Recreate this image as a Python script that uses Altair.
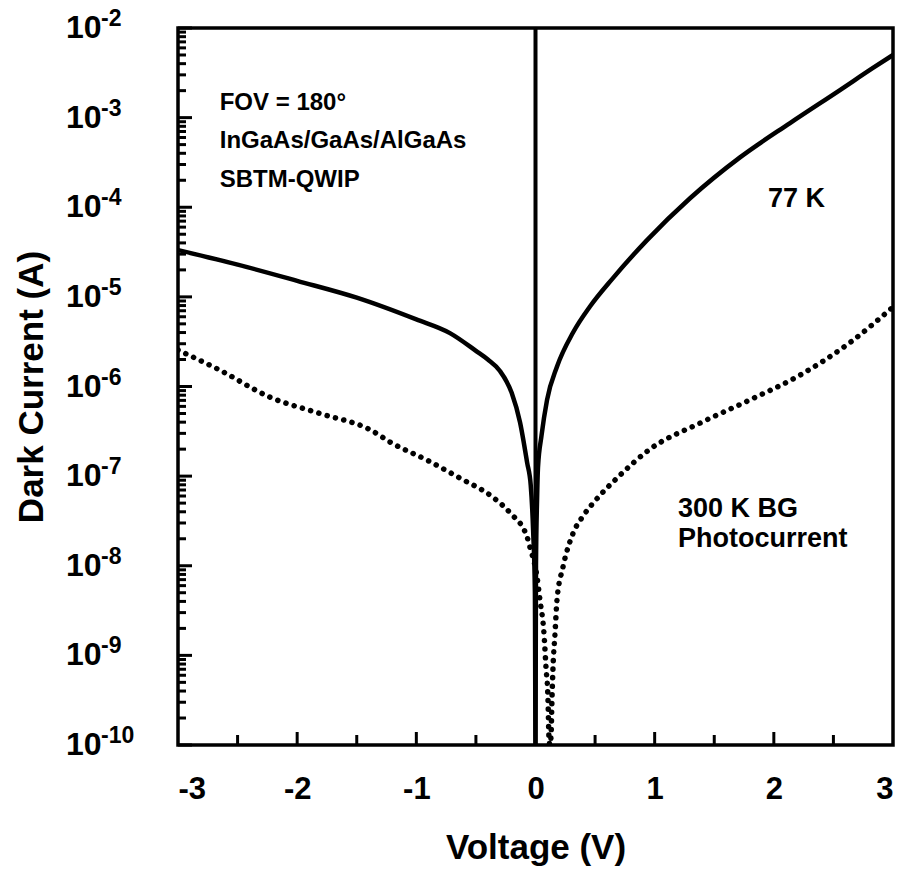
import altair as alt
import pandas as pd

# 77 K dark current (solid)
v_77k = [-3.0, -2.5, -2.0, -1.5, -1.0, -0.718, -0.5, -0.4, -0.3, -0.2, -0.13, -0.07, -0.04, -0.02, -0.005, 0.0,
         0.004, 0.013, 0.021, 0.05, 0.097, 0.18, 0.315, 0.457, 0.65, 0.936, 1.297, 1.716, 2.136, 2.555, 2.832, 3.0]
i_77k = [3.33e-5, 2.29e-5, 1.51e-5, 9.8e-6, 5.6e-6, 3.94e-6, 2.5e-6, 2.0e-6, 1.5e-6, 8.5e-7, 4.0e-7, 1.41e-7, 7.9e-8, 2.5e-8, 5.0e-9, 1e-10,
         1.0e-8, 5.4e-8, 1.26e-7, 2.8e-7, 7.1e-7, 1.66e-6, 4.0e-6, 7.8e-6, 1.62e-5, 4.3e-5, 1.26e-4, 3.6e-4, 8.7e-4, 2.03e-3, 3.58e-3, 5.0e-3]

# 300 K background photocurrent (dotted)
v_bg = [-3.0, -2.648, -2.228, -1.809, -1.389, -1.196, -0.911, -0.634, -0.357, -0.214, -0.071, -0.046,
        0.013, 0.038, 0.071, 0.088, 0.105, 0.113, 0.12, 0.13, 0.138, 0.147, 0.164, 0.18, 0.23, 0.315,
        0.40, 0.50, 0.684, 0.961, 1.38, 1.80, 2.22, 2.64, 3.0]
i_bg = [2.55e-6, 1.52e-6, 7.6e-7, 5.0e-7, 3.3e-7, 2.3e-7, 1.51e-7, 9.5e-8, 5.8e-8, 3.9e-8, 2.1e-8, 1.6e-8,
        7.5e-9, 4.1e-9, 1.77e-9, 7.4e-10, 3.2e-10, 1.22e-10, 1.0e-10, 1.22e-10, 3.2e-10, 7.4e-10, 1.77e-9, 4.1e-9, 9.6e-9, 2.3e-8,
        3.6e-8, 5.3e-8, 9.5e-8, 2.0e-7, 3.9e-7, 7.1e-7, 1.34e-6, 3.1e-6, 7.7e-6]

x_tick_labels = [-3, -2, -1, 0, 1, 2, 3]
x_minor_ticks = [-2.5, -2, -1.5, -1, -0.5, 0.5, 1, 1.5, 2, 2.5]
y_decades = [1e-10, 1e-9, 1e-8, 1e-7, 1e-6, 1e-5, 1e-4, 1e-3, 1e-2]
y_exponents = ["-10", "-9", "-8", "-7", "-6", "-5", "-4", "-3", "-2"]
mantissas = [2, 3, 4, 5, 6, 7, 8, 9]

info_text = ["FOV = 180°", "InGaAs/GaAs/AlGaAs", "SBTM-QWIP"]
info_v = [-2.65, -2.65, -2.65]
info_i = [1.22e-3, 4.58e-4, 1.68e-4]
curve_text = ["77 K", "300 K BG", "Photocurrent"]
curve_v = [1.95, 1.195, 1.195]
curve_i = [1.0e-4, 3.5e-8, 1.6e-8]

FONT = "Liberation Sans"
W, H = 715, 717

df77 = pd.DataFrame({"V": v_77k, "I": i_77k})
dfbg = pd.DataFrame({"V": v_bg, "I": i_bg})
df_zero = pd.DataFrame({"V": [0.0]})
df_major = pd.DataFrame({"I": y_decades, "base": ["10"] * len(y_decades), "exp": y_exponents})
df_minor = pd.DataFrame({"I": [m * d for d in y_decades[:-1] for m in mantissas]})
df_xt = pd.DataFrame({"V": x_minor_ticks, "major": [float(v).is_integer() for v in x_minor_ticks]})
df_info = pd.DataFrame({"V": info_v, "I": info_i, "label": info_text})
df_curve = pd.DataFrame({"V": curve_v, "I": curve_i, "label": curve_text})

xscale = alt.Scale(domain=[-3, 3], nice=False, zero=False)
yscale = alt.Scale(type="log", domain=[1e-10, 1e-2], nice=False)

xaxis = alt.Axis(values=x_tick_labels, labelExpr="datum.value + ''", ticks=False, domain=False, grid=False,
                 labelFont=FONT, labelFontSize=31, labelFontWeight="bold", labelPadding=29,
                 title="Voltage (V)", titleFont=FONT, titleFontSize=35, titleFontWeight="bold",
                 titleX=W / 2, titleY=113, titleAlign="center", titleBaseline="alphabetic")
yaxis = alt.Axis(labels=False, ticks=False, domain=False, grid=False,
                 title="Dark Current (A)", titleFont=FONT, titleFontSize=35, titleFontWeight="bold",
                 titleX=-136, titleY=H / 2, titleAngle=270, titleAlign="center", titleBaseline="alphabetic")

X = alt.X("V:Q", scale=xscale, axis=xaxis)
Y = alt.Y("I:Q", scale=yscale, axis=yaxis)

solid = alt.Chart(df77).mark_line(color="black", strokeWidth=4.5, clip=True,
                                  interpolate="monotone").encode(x=X, y=Y)
dotted = alt.Chart(dfbg).mark_line(color="black", strokeWidth=5.5, strokeDash=[0.1, 8.5],
                                   strokeCap="round", clip=True, interpolate="monotone").encode(x=X, y=Y)
zero_line = alt.Chart(df_zero).mark_rule(color="black", strokeWidth=4).encode(x=X)

y_major = alt.Chart(df_major).mark_rule(color="black", strokeWidth=3).encode(
    y=Y, x=alt.value(0), x2=alt.value(14))
y_minor = alt.Chart(df_minor).mark_rule(color="black", strokeWidth=3).encode(
    y=Y, x=alt.value(0), x2=alt.value(8))
x_major = alt.Chart(df_xt).transform_filter("datum.major").mark_rule(color="black", strokeWidth=3).encode(
    x=X, y=alt.value(H), y2=alt.value(H - 13))
x_half = alt.Chart(df_xt).transform_filter("!datum.major").mark_rule(color="black", strokeWidth=3).encode(
    x=X, y=alt.value(H), y2=alt.value(H - 10))

base_lab = alt.Chart(df_major).mark_text(align="left", baseline="middle", font=FONT, fontSize=32,
                                         fontWeight="bold", color="black").encode(
    y=Y, x=alt.value(-112), text="base:N")
exp_lab = alt.Chart(df_major).mark_text(align="left", baseline="middle", font=FONT, fontSize=23,
                                        fontWeight="bold", color="black", dy=-9).encode(
    y=Y, x=alt.value(-77), text="exp:N")

info = alt.Chart(df_info).mark_text(align="left", baseline="alphabetic", font=FONT, fontSize=24,
                                    fontWeight="bold", color="black").encode(x=X, y=Y, text="label:N")
curve_lab = alt.Chart(df_curve).mark_text(align="left", baseline="alphabetic", font=FONT, fontSize=27,
                                          fontWeight="bold", color="black").encode(x=X, y=Y, text="label:N")

chart = alt.layer(
    solid, dotted, zero_line, y_major, y_minor, x_major, x_half, base_lab, exp_lab, info, curve_lab
).properties(
    width=W, height=H,
    padding={"left": 178, "top": 28, "right": 19, "bottom": 128},
    autosize=alt.AutoSizeParams(type="none"),
    background="white",
).configure_view(
    stroke="black", strokeWidth=3.5
).configure_axis(
    labelColor="black", titleColor="black"
)

chart.save("out.html", embed_options={"renderer": "svg", "actions": False})
